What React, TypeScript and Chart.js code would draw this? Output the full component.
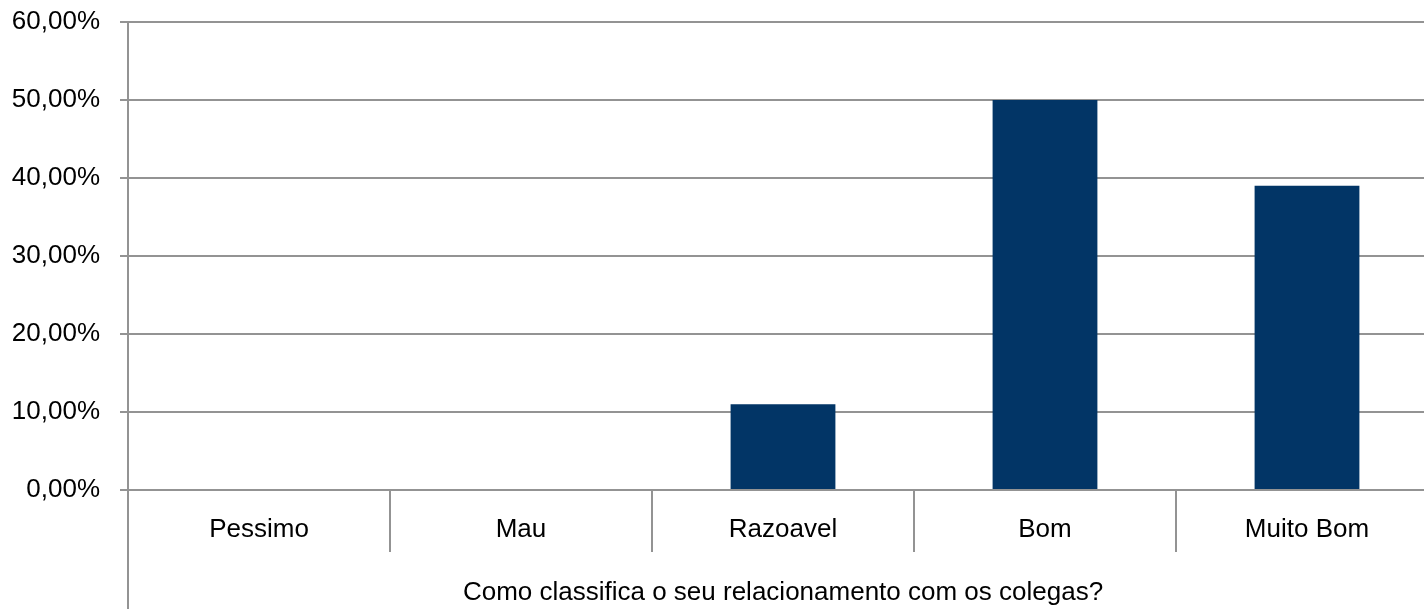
import React, { useEffect, useRef } from "react";
import { Chart, registerables } from "chart.js";

Chart.register(...registerables);

const categories = ["Pessimo", "Mau", "Razoavel", "Bom", "Muito Bom"];
const values = [0, 0, 11, 50, 39];
const yTicks = [0, 10, 20, 30, 40, 50, 60];
const axisTitle = "Como classifica o seu relacionamento com os colegas?";

const FONT = "'Liberation Sans', Arial, sans-serif";
const GRID = "#939393";
const LW = 2;

const linesPlugin = {
  id: "extraLines",
  afterDraw(chart: any) {
    const { ctx, chartArea, scales } = chart;
    const x = scales.x;
    ctx.save();
    ctx.strokeStyle = GRID;
    ctx.lineWidth = LW;
    const lx = Math.round(chartArea.left);
    ctx.beginPath();
    ctx.moveTo(lx, chartArea.top - 1);
    ctx.lineTo(lx, chart.height);
    ctx.stroke();
    const n = categories.length;
    for (let i = 1; i < n; i++) {
      const px = Math.round((x.getPixelForValue(i - 1) + x.getPixelForValue(i)) / 2);
      ctx.beginPath();
      ctx.moveTo(px, chartArea.bottom);
      ctx.lineTo(px, chartArea.bottom + 62);
      ctx.stroke();
    }
    ctx.restore();
  },
};

export default function App() {
  const ref = useRef<HTMLCanvasElement>(null);
  useEffect(() => {
    if (!ref.current) return;
    const chart = new Chart(ref.current, {
      type: "bar",
      data: {
        labels: categories,
        datasets: [
          {
            data: values,
            backgroundColor: "#023566",
            barPercentage: 0.4,
            categoryPercentage: 1,
          },
        ],
      },
      options: {
        responsive: false,
        animation: false,
        layout: { padding: { top: 22, right: 2, left: 0, bottom: 0 } },
        plugins: { legend: { display: false }, tooltip: { enabled: false } },
        scales: {
          x: {
            grid: { display: false },
            border: { display: false },
            afterFit: (axis: any) => {
              axis.height = 119;
              axis.paddingLeft = 0;
              axis.paddingRight = 0;
            },
            ticks: {
              color: "#000",
              font: { family: FONT, size: 26 },
              padding: 16,
              maxRotation: 0,
            },
            title: {
              display: true,
              text: axisTitle,
              color: "#000",
              font: { family: FONT, size: 26 },
              padding: { top: 10, bottom: 1 },
            },
          },
          y: {
            min: 0,
            max: 60,
            afterBuildTicks: (axis: any) => {
              axis.ticks = yTicks.map((v) => ({ value: v }));
            },
            afterFit: (axis: any) => {
              axis.width = 128;
              axis.paddingTop = 0;
              axis.paddingBottom = 0;
            },
            grid: { color: GRID, lineWidth: LW, tickLength: 8, drawTicks: true },
            border: { display: false },
            ticks: {
              color: "#000",
              font: { family: FONT, size: 26 },
              padding: 20,
              callback: (v: any) => Number(v).toFixed(2).replace(".", ",") + "%",
            },
          },
        },
      },
      plugins: [linesPlugin],
    });
    return () => chart.destroy();
  }, []);
  return (
    <div
      style={{
        position: "fixed",
        left: 0,
        top: 0,
        width: 1424,
        height: 609,
        overflow: "hidden",
        background: "#fff",
      }}
    >
      <canvas ref={ref} width={1440} height={609} style={{ display: "block" }} />
    </div>
  );
}
